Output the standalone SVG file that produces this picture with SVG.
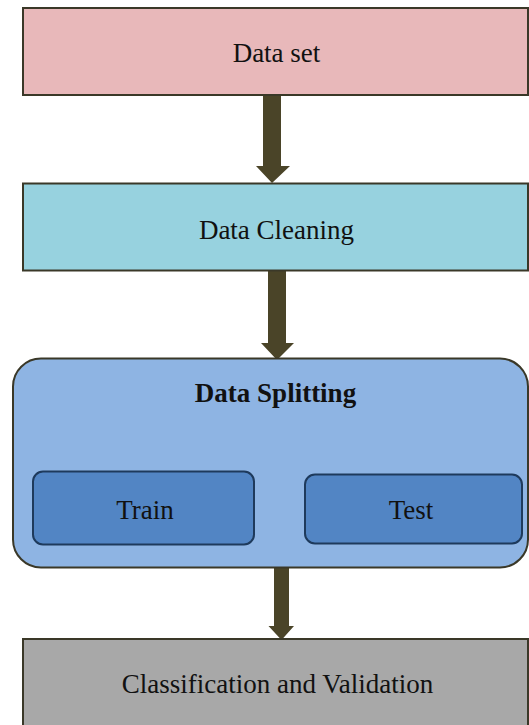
<svg xmlns="http://www.w3.org/2000/svg" width="529" height="725" viewBox="0 0 529 725">
  <style>
    .box { stroke: #3a3828; stroke-width: 2; }
    .inner { fill: #5285c4; stroke: #1e3a5c; stroke-width: 2; }
    .label { font-family: "Liberation Serif", "Times New Roman", serif; font-size: 27px; fill: #111; text-anchor: middle; }
    .bold { font-weight: bold; }
    .arrow { fill: #4a4428; }
  </style>
  <rect width="529" height="725" fill="#ffffff"/>

  <g id="connectors">
    <path class="arrow" d="M263,95 H281 V166 H290 L272,183 L256,166 H263 Z"/>
    <path class="arrow" d="M268,271 H286 V343 H294 L277,360 L261,343 H268 Z"/>
    <path class="arrow" d="M274,567 H289 V626 H294 L281.5,640 L268.5,626 H274 Z"/>
  </g>

  <g id="dataset">
    <rect class="box" x="23" y="8" width="505" height="87" fill="#e8b8ba"/>
    <text class="label" x="276.5" y="62">Data set</text>
  </g>

  <g id="cleaning">
    <rect class="box" x="23" y="183.5" width="505" height="87" fill="#97d2df"/>
    <text class="label" x="276.5" y="239">Data Cleaning</text>
  </g>

  <g id="splitting">
    <rect class="box" x="13" y="358.5" width="515" height="209" rx="28" ry="28" fill="#8eb4e3"/>
    <text class="label bold" x="275.5" y="402">Data Splitting</text>
    <g id="train">
      <rect class="inner" x="33" y="471.5" width="221" height="73" rx="10" ry="10"/>
      <text class="label" x="145" y="518.5">Train</text>
    </g>
    <g id="test">
      <rect class="inner" x="305" y="474.5" width="217" height="69" rx="10" ry="10"/>
      <text class="label" x="411" y="518.5">Test</text>
    </g>
  </g>

  <g id="classification">
    <rect class="box" x="23" y="639" width="505" height="95" fill="#a8a8a8"/>
    <text class="label" x="277.5" y="692.5">Classification and Validation</text>
  </g>
</svg>
